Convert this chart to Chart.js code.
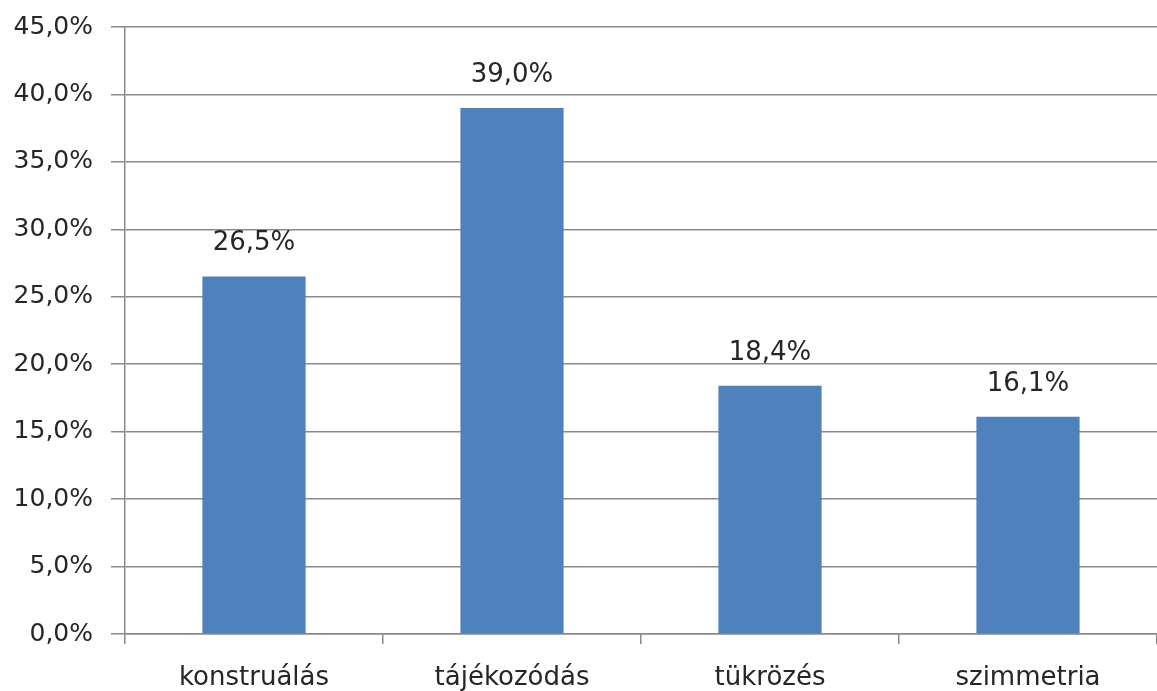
<!DOCTYPE html>
<html>
<head>
<meta charset="utf-8">
<script src="https://cdn.jsdelivr.net/npm/chart.js@4"></script>
<style>
  html, body { margin: 0; padding: 0; background: #fff; }
  #wrap { width: 1157px; height: 691px; }
</style>
</head>
<body>
<div id="wrap"><canvas id="chart"></canvas></div>
<script>
const categories = ["konstruálás", "tájékozódás", "tükrözés", "szimmetria"];
const shares = [26.5, 39.0, 18.4, 16.1];
const yMax = 45;
const yStep = 5;

const pct = v => v.toFixed(1).replace(".", ",") + "%";

// draws the value above each bar
const valueLabels = {
    id: "valueLabels",
    afterDatasetsDraw(chart) {
        const ctx = chart.ctx;
        ctx.save();
        ctx.font = "26px 'DejaVu Sans'";
        ctx.fillStyle = "#262626";
        ctx.textAlign = "center";
        ctx.textBaseline = "bottom";
        chart.getDatasetMeta(0).data.forEach((bar, i) => {
            ctx.fillText(pct(shares[i]), bar.x, bar.y - 20);
        });
        ctx.restore();
    }
};

new Chart(document.getElementById("chart"), {
    type: "bar",
    data: {
        labels: categories,
        datasets: [{
            data: shares,
            backgroundColor: "#4f81bd",
            categoryPercentage: 1,
            barPercentage: 0.4
        }]
    },
    options: {
        responsive: true,
        maintainAspectRatio: false,
        animation: false,
        layout: { padding: 0 },
        plugins: { legend: { display: false }, tooltip: { enabled: false } },
        scales: {
            x: {
                afterFit: s => { s.height = 57; },
                grid: { display: true, drawOnChartArea: false, color: "#8a8a8a", lineWidth: 1.5, tickLength: 10 },
                border: { color: "#8a8a8a", width: 1.5 },
                ticks: { color: "#262626", font: { family: "DejaVu Sans", size: 26 }, padding: 19 }
            },
            y: {
                afterFit: s => { s.width = 125; s.paddingTop = 27; s.paddingBottom = 0; },
                min: 0,
                max: yMax,
                ticks: {
                    stepSize: yStep,
                    color: "#262626",
                    font: { family: "DejaVu Sans", size: 25 },
                    padding: 18,
                    callback: v => pct(v)
                },
                grid: { color: "#8a8a8a", lineWidth: 1.5, tickLength: 14 },
                border: { color: "#8a8a8a", width: 1.5 }
            }
        }
    },
    plugins: [valueLabels]
});
</script>
</body>
</html>
